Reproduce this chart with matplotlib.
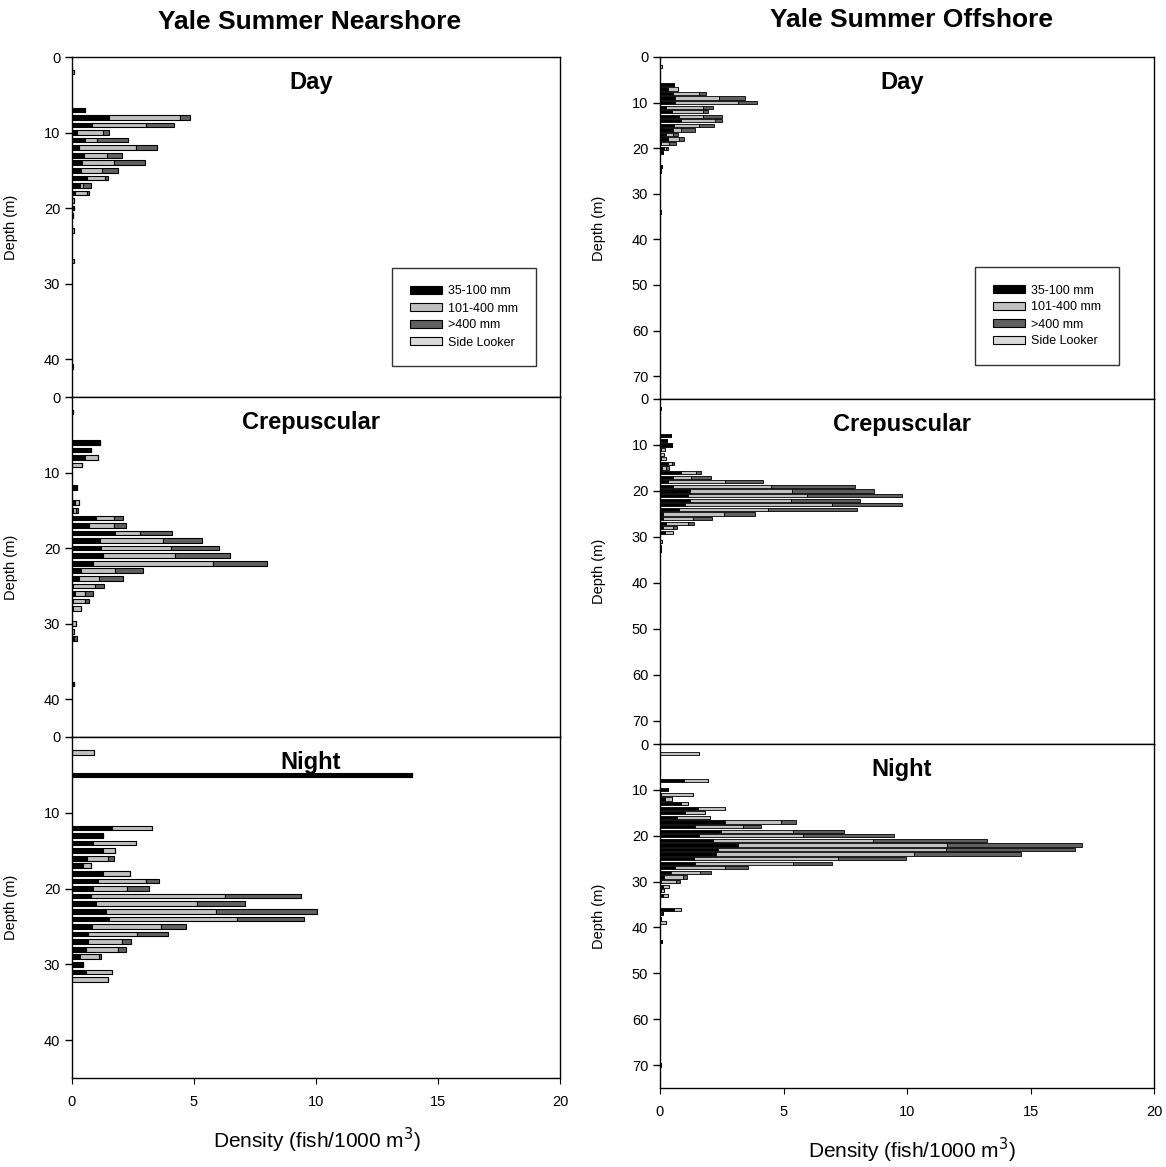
import numpy as np
import matplotlib
matplotlib.use("Agg")
import matplotlib.pyplot as plt

# colours of the size classes
C_SMALL = "#000000"
C_MID = "#c0c0c0"
C_LARGE = "#606060"
C_SIDE = "#dadada"

legend_labels = ["35-100 mm", "101-400 mm", ">400 mm", "Side Looker"]

## Nearshore (left column)

day_near_depth = [2, 7, 8, 9, 10, 11, 12, 13, 14, 15, 16, 17, 18, 19, 20, 21, 23, 27, 41]
day_near_small = [0, 0.53, 1.5, 0.8, 0.19, 0.53, 0.29, 0.49, 0.4, 0.36, 0.6, 0.33, 0.11, 0, 0.07, 0.03, 0, 0, 0]
day_near_mid = [0.1, 0, 2.93, 2.23, 1.09, 0.51, 2.32, 0.96, 1.33, 0.88, 0.75, 0.13, 0.49, 0.1, 0, 0, 0.1, 0.1, 0.05]
day_near_large = [0, 0, 0.41, 1.17, 0.25, 1.24, 0.86, 0.61, 1.26, 0.63, 0.14, 0.31, 0.08, 0, 0, 0, 0, 0, 0]

crep_near_depth = [2, 6, 7, 8, 9, 12, 14, 15, 16, 17, 18, 19, 20, 21, 22, 23, 24, 25, 26, 27, 28, 30, 31, 32, 38]
crep_near_small = [0.05, 1.15, 0.76, 0.53, 0, 0.19, 0.12, 0.05, 0.98, 0.7, 1.76, 1.15, 1.17, 1.26, 0.85, 0.36, 0.29, 0.05, 0.12, 0.03, 0.03, 0, 0, 0.05, 0.1]
crep_near_mid = [0, 0, 0, 0.55, 0.4, 0, 0.15, 0.1, 0.74, 1.02, 1.03, 2.59, 2.89, 2.96, 4.94, 1.4, 0.81, 0.89, 0.41, 0.5, 0.33, 0.16, 0.08, 0.05, 0]
crep_near_large = [0, 0, 0, 0, 0, 0, 0, 0.11, 0.38, 0.49, 1.31, 1.57, 1.98, 2.26, 2.21, 1.14, 1.0, 0.39, 0.32, 0.18, 0, 0, 0, 0.12, 0]

night_near_depth = [2, 5, 12, 13, 14, 15, 16, 17, 18, 19, 20, 21, 22, 23, 24, 25, 26, 27, 28, 29, 30, 31, 32]
night_near_small = [0, 13.92, 1.63, 1.26, 0.85, 1.26, 0.63, 0.46, 1.26, 1.05, 0.85, 0.76, 0.97, 1.38, 1.5, 0.8, 0.64, 0.66, 0.57, 0.33, 0.44, 0.57, 0]
night_near_mid = [0.9, 0, 1.64, 0, 1.77, 0.5, 0.86, 0.32, 1.12, 1.98, 1.42, 5.51, 4.16, 4.52, 5.27, 2.85, 2.01, 1.4, 1.33, 0.77, 0, 1.08, 1.49]
night_near_large = [0, 0, 0, 0, 0, 0, 0.23, 0, 0, 0.54, 0.87, 3.11, 1.97, 4.15, 2.72, 1.01, 1.3, 0.36, 0.3, 0.09, 0, 0, 0]

## Offshore (right column)

day_off_depth = [2, 6, 7, 8, 9, 10, 11, 12, 13, 14, 15, 16, 17, 18, 19, 20, 21, 24, 25, 34]
day_off_small = [0, 0.55, 0.34, 0.51, 0.61, 0.61, 0.24, 0.49, 0.78, 0.85, 0.58, 0.51, 0.24, 0.31, 0.04, 0.15, 0.11, 0.07, 0.03, 0.03]
day_off_mid = [0.1, 0, 0.4, 1.08, 1.79, 2.53, 1.49, 1.24, 0.95, 1.38, 1.01, 0.34, 0.27, 0.47, 0.34, 0.09, 0, 0, 0, 0]
day_off_large = [0, 0, 0, 0.27, 1.04, 0.79, 0.4, 0.23, 0.77, 0.27, 0.61, 0.57, 0.21, 0.21, 0.27, 0.1, 0, 0, 0, 0]

crep_off_depth = [2, 8, 9, 10, 11, 12, 13, 14, 15, 16, 17, 18, 19, 20, 21, 22, 23, 24, 25, 26, 27, 28, 29, 31, 32, 33]
crep_off_small = [0.03, 0.43, 0.3, 0.5, 0.05, 0, 0.05, 0.34, 0.08, 0.85, 0.51, 0.31, 0.51, 1.21, 1.12, 1.21, 1.01, 0.77, 0.11, 0.11, 0.24, 0.11, 0.2, 0, 0.04, 0.05]
crep_off_mid = [0, 0, 0, 0, 0.14, 0.16, 0.19, 0.13, 0.15, 0.61, 0.75, 2.34, 3.98, 4.13, 4.82, 4.09, 5.95, 3.59, 2.48, 1.24, 0.91, 0.43, 0.31, 0.1, 0, 0]
crep_off_large = [0, 0, 0, 0, 0, 0, 0, 0.1, 0.15, 0.19, 0.8, 1.52, 3.39, 3.34, 3.86, 2.8, 2.84, 3.6, 1.26, 0.74, 0.21, 0.16, 0, 0, 0, 0]

night_off_depth = [2, 8, 10, 11, 12, 13, 14, 15, 16, 17, 18, 19, 20, 21, 22, 23, 24, 25, 26, 27, 28, 29, 30, 31, 32, 33, 36, 37, 38, 39, 43, 70]
night_off_small = [0, 0.96, 0.32, 0.05, 0.22, 0.85, 1.52, 1.0, 0.69, 2.65, 1.4, 2.46, 1.57, 2.13, 3.14, 2.34, 2.25, 1.36, 1.4, 0.62, 0.43, 0.15, 0.05, 0.11, 0.05, 0.11, 0.55, 0.13, 0.03, 0, 0.09, 0.03]
night_off_mid = [1.59, 0.98, 0, 1.3, 0.27, 0.27, 1.13, 0.81, 1.35, 2.25, 1.96, 2.92, 4.22, 6.49, 8.48, 9.24, 8.05, 5.83, 3.98, 2.0, 1.2, 0.77, 0.6, 0.25, 0.1, 0.23, 0.29, 0, 0, 0.24, 0, 0]
night_off_large = [0, 0, 0, 0, 0, 0, 0, 0, 0, 0.61, 0.74, 2.08, 3.7, 4.62, 5.45, 5.21, 4.3, 2.78, 1.6, 0.96, 0.45, 0.17, 0.15, 0, 0, 0, 0, 0, 0, 0, 0, 0]

W, H = 1166, 1167
fig = plt.figure(figsize=(W / 100, H / 100), dpi=100)
plt.rcParams['font.family'] = ['Liberation Sans', 'DejaVu Sans']


def px_axes(x0, x1, ytop, ybot):
    return fig.add_axes([x0 / W, 1 - ybot / H, (x1 - x0) / W, (ybot - ytop) / H])


def draw(ax, depth, small, mid, large, maxdepth, yticks, title, hgt, lw, bottom):
    depth = np.array(depth)
    small = np.array(small)
    mid = np.array(mid)
    large = np.array(large)
    kw = dict(height=hgt, edgecolor="black", linewidth=lw)
    ax.barh(depth, small, color=C_SMALL, **kw)
    ax.barh(depth, mid, left=small, color=C_MID, **kw)
    ax.barh(depth, large, left=small + mid, color=C_LARGE, **kw)
    ax.set_xlim(0, 20)
    ax.set_ylim(maxdepth, 0)
    ax.set_yticks(yticks)
    ax.tick_params(axis="y", direction="out", length=5, labelsize=10.5, width=1)
    ax.set_ylabel("Depth (m)", fontsize=10.5)
    ax.yaxis.set_label_coords(-0.11, 0.5)
    if bottom:
        ax.set_xticks([0, 5, 10, 15, 20])
        ax.tick_params(axis="x", direction="out", length=4, labelsize=10.5, pad=8)
    else:
        ax.set_xticks([])
    for s in ax.spines.values():
        s.set_linewidth(1.0)
    ax.text(0.49, 0.925, title, transform=ax.transAxes, ha="center", va="center",
            fontsize=17, fontweight="bold")


def add_legend(ax, anchor):
    handles = [plt.Rectangle((0, 0), 1, 1, facecolor=c, edgecolor="black", linewidth=0.8)
               for c in (C_SMALL, C_MID, C_LARGE, C_SIDE)]
    leg = ax.legend(handles, legend_labels, loc="upper left",
                    bbox_to_anchor=(anchor[0] / W, 1 - anchor[1] / H),
                    bbox_transform=fig.transFigure, fontsize=9, fancybox=False,
                    frameon=True, handlelength=2.6, handleheight=0.6,
                    borderpad=1.4, labelspacing=0.4, handletextpad=0.5, borderaxespad=0)
    leg.get_frame().set_edgecolor("black")
    leg.get_frame().set_linewidth(1.0)


# left column
lx0, lx1 = 72, 560
a1 = px_axes(lx0, lx1, 57, 397)
a2 = px_axes(lx0, lx1, 397, 737)
a3 = px_axes(lx0, lx1, 737, 1078)
lt = [0, 10, 20, 30, 40]
draw(a1, day_near_depth, day_near_small, day_near_mid, day_near_large, 45, lt, "Day", 0.62, 0.8, False)
draw(a2, crep_near_depth, crep_near_small, crep_near_mid, crep_near_large, 45, lt, "Crepuscular", 0.62, 0.8, False)
draw(a3, night_near_depth, night_near_small, night_near_mid, night_near_large, 45, lt, "Night", 0.62, 0.8, True)
add_legend(a1, (392, 268))

# right column
rx0, rx1 = 660, 1154
b1 = px_axes(rx0, rx1, 57, 399)
b2 = px_axes(rx0, rx1, 399, 744)
b3 = px_axes(rx0, rx1, 744, 1088)
rt = [0, 10, 20, 30, 40, 50, 60, 70]
draw(b1, day_off_depth, day_off_small, day_off_mid, day_off_large, 75, rt, "Day", 0.7, 0.6, False)
draw(b2, crep_off_depth, crep_off_small, crep_off_mid, crep_off_large, 75, rt, "Crepuscular", 0.7, 0.6, False)
draw(b3, night_off_depth, night_off_small, night_off_mid, night_off_large, 75, rt, "Night", 0.7, 0.6, True)
add_legend(b1, (975, 267))

fig.text(310 / W, 1 - 22 / H, "Yale Summer Nearshore", ha="center", va="center",
         fontsize=19, fontweight="bold")
fig.text(912 / W, 1 - 20 / H, "Yale Summer Offshore", ha="center", va="center",
         fontsize=19, fontweight="bold")
fig.text(317 / W, 1 - 1140 / H, r"Density (fish/1000 m$^{3}$)", ha="center", va="center", fontsize=15)
fig.text(912 / W, 1 - 1150 / H, r"Density (fish/1000 m$^{3}$)", ha="center", va="center", fontsize=15)

fig.savefig("out.png", dpi=100)
